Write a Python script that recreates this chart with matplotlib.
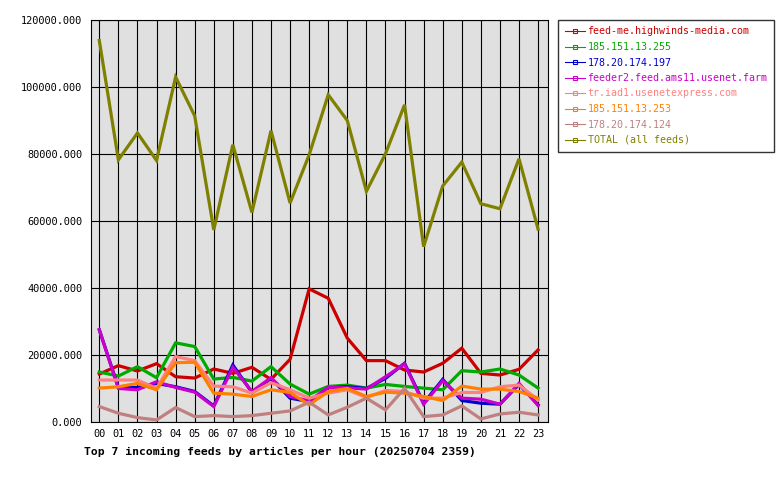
import matplotlib
matplotlib.use("Agg")
import matplotlib.pyplot as plt
from matplotlib.lines import Line2D

hours = ["%02d" % h for h in range(24)]

feed_me = [14400, 16900, 15300, 17500, 13600, 13200, 15900, 14600, 16400, 12800, 18800, 39800,
           37000, 25100, 18400, 18400, 15600, 15000, 17600, 22100, 14600, 14100, 15800, 21600]
ip_255 = [15000, 13800, 16600, 13300, 23700, 22600, 12900, 13400, 12300, 16600, 11400, 8400,
          10700, 11100, 10200, 11300, 10700, 10200, 9700, 15400, 15000, 15900, 14100, 10200]
ip_197 = [27600, 10400, 10400, 11600, 10600, 9200, 4900, 17100, 8900, 13100, 7200, 6200,
          10300, 10600, 10100, 13100, 17600, 5700, 12800, 6500, 5700, 5400, 11300, 5200]
feeder2 = [27600, 10100, 9700, 12100, 10400, 9000, 4700, 16400, 9200, 13300, 7700, 6400,
           10400, 10300, 9900, 13600, 17400, 5400, 12400, 7200, 6900, 5400, 11600, 5000]
tr_iad1 = [12600, 12600, 12600, 10100, 19600, 18400, 10800, 10600, 8700, 11800, 9700, 7200,
           8700, 9700, 7400, 9500, 9200, 7200, 7200, 8900, 8900, 10600, 11100, 6700]
ip_253 = [10200, 10600, 11600, 9700, 17800, 17900, 8700, 8400, 7700, 9700, 8900, 5200,
          9200, 10100, 7700, 9000, 8700, 7700, 6500, 10800, 9900, 9900, 9200, 7200]
ip_124 = [4700, 2700, 1400, 700, 4400, 1700, 2000, 1700, 2000, 2700, 3400, 6000,
          2200, 4500, 7200, 3700, 10100, 1700, 2200, 4900, 1000, 2500, 3000, 2200]
total = [113900, 78300, 86300, 78100, 103000, 91400, 57400, 82800, 62600, 87000, 65400, 79800,
         97700, 90000, 68900, 80100, 94700, 52400, 70500, 77600, 65200, 63700, 78600, 57600]

series = [
    ("feed-me.highwinds-media.com", feed_me, "#cc0000"),
    ("185.151.13.255", ip_255, "#00aa00"),
    ("178.20.174.197", ip_197, "#0000cc"),
    ("feeder2.feed.ams11.usenet.farm", feeder2, "#cc00cc"),
    ("tr.iad1.usenetexpress.com", tr_iad1, "#ff8080"),
    ("185.151.13.253", ip_253, "#ff8000"),
    ("178.20.174.124", ip_124, "#c08080"),
    ("TOTAL (all feeds)", total, "#808000"),
]

yticks = [0, 20000, 40000, 60000, 80000, 100000, 120000]

plt.rcParams['font.family'] = ['DejaVu Sans Mono']

fig = plt.figure(figsize=(7.8, 4.8), dpi=100)
ax = fig.add_axes([0.1163, 0.1202, 0.5863, 0.8381])
ax.set_facecolor("#e0e0e0")

x = list(range(len(hours)))
for label, vals, col in series:
    ax.plot(x, vals, color=col, linewidth=2.3, solid_joinstyle='miter', zorder=3)

ax.set_xlim(-0.45, 23.52)
ax.set_ylim(0, 120000)
ax.set_xticks(x)
ax.set_xticklabels(hours)
ax.set_yticks(yticks)
ax.set_yticklabels(["%d.000" % v for v in yticks])
ax.grid(True, color="black", linewidth=0.8, zorder=1)
ax.set_axisbelow(True)
ax.tick_params(axis='both', length=0, labelsize=7.4, colors='black')
ax.tick_params(axis='y', pad=6)
ax.tick_params(axis='x', pad=5)
for s in ax.spines.values():
    s.set_color("black")
    s.set_linewidth(0.8)

fig.text(84 / 780, 1 - 452 / 480, "Top 7 incoming feeds by articles per hour (20250704 2359)",
         fontsize=8.2, fontweight='bold', va='center', ha='left')

handles = [Line2D([0], [0], color=col, linewidth=0.8, marker='s', markersize=3,
                  markerfacecolor='none', markeredgecolor=col, markeredgewidth=0.8)
           for _, _, col in series]
labels = [s[0] for s in series]
leg = fig.legend(handles, labels, loc='upper left', bbox_to_anchor=(558 / 780, 1 - 20 / 480),
                 borderaxespad=0, fontsize=7.2, labelcolor='linecolor', frameon=True,
                 fancybox=False, edgecolor='black', handlelength=2.0, handletextpad=0.3,
                 labelspacing=0.55, borderpad=0.65, markerfirst=True)
leg.get_frame().set_linewidth(1)

fig.savefig("out.png", dpi=100, facecolor="white")
